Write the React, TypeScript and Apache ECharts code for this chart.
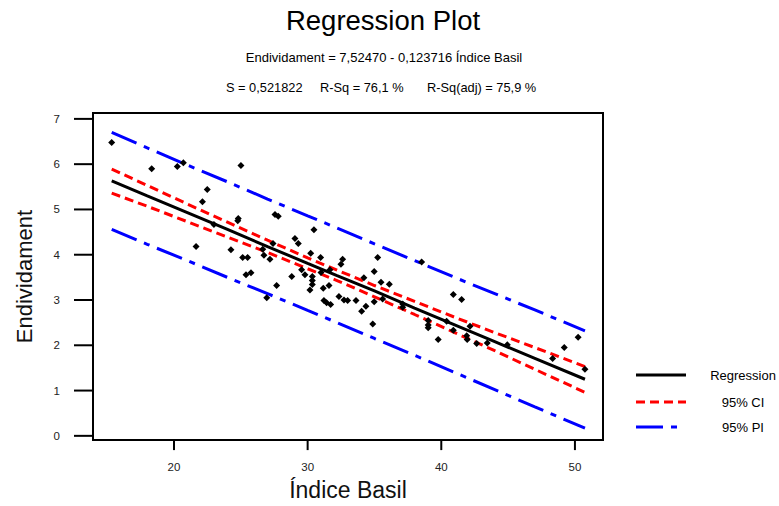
import React, { useEffect, useRef } from "react";
import * as echarts from "echarts";

const xTicks = [20, 30, 40, 50];
const yTicks = [0, 1, 2, 3, 4, 5, 6, 7];

const pointsX = [
  15.34, 18.33, 20.25, 20.7, 25.01, 22.49, 22.13, 24.81, 24.77, 22.99, 21.65, 24.26, 25.14, 25.51,
  26.64, 26.73, 27.18, 27.41, 27.56, 27.8, 29.05, 29.3, 25.39, 25.76, 28.81, 27.68, 26.94, 30.47,
  30.23, 30.97, 32.62, 32.49, 35.24, 29.55, 29.8, 31.0, 30.35, 30.35, 30.35, 31.67, 34.98, 34.21,
  35.49, 36.11, 30.17, 31.17, 31.6, 32.34, 32.72, 32.99, 33.62, 31.22, 31.42, 31.72, 34.36, 34.98,
  35.61, 34.04, 34.87, 38.53, 40.9, 41.52, 37.11, 37.11, 39.02, 39.02, 39.02, 39.77, 40.4, 40.9,
  42.15, 41.9, 41.94, 42.65, 43.44, 44.94, 48.33, 49.2, 50.24, 50.75,
];
const pointsY = [
  6.48, 5.9, 5.95, 6.03, 5.97, 5.44, 5.17, 4.8, 4.75, 4.67, 4.18, 4.11, 3.94, 3.94,
  4.12, 3.99, 3.9, 4.25, 4.89, 4.85, 4.36, 4.25, 3.56, 3.6, 3.52, 3.32, 3.05, 4.55,
  4.03, 3.94, 3.9, 3.79, 3.94, 3.67, 3.56, 3.61, 3.52, 3.43, 3.34, 3.67, 3.63, 3.49,
  3.39, 3.35, 3.22, 3.26, 3.32, 3.08, 3.0, 2.99, 2.99, 2.99, 2.94, 2.9, 2.86, 2.96,
  3.02, 2.75, 2.47, 3.84, 3.12, 3.01, 2.91, 2.84, 2.55, 2.45, 2.39, 2.13, 2.53, 2.33,
  2.42, 2.21, 2.13, 2.04, 2.05, 2.01, 1.71, 1.95, 2.18, 1.47,
];

const fitX = [15.34, 18, 21, 24, 27, 30, 32.2, 35, 38, 41, 44, 47, 50.75];
const fitY = [5.63, 5.3, 4.93, 4.56, 4.18, 3.81, 3.54, 3.2, 2.82, 2.45, 2.08, 1.71, 1.25];
const ciUpper = [5.89, 5.53, 5.12, 4.72, 4.32, 3.93, 3.66, 3.32, 2.97, 2.62, 2.28, 1.95, 1.53];
const ciLower = [5.36, 5.07, 4.73, 4.39, 4.05, 3.69, 3.43, 3.07, 2.68, 2.28, 1.88, 1.47, 0.96];
const piUpper = [6.7, 6.36, 5.98, 5.61, 5.23, 4.86, 4.59, 4.24, 3.87, 3.5, 3.14, 2.78, 2.32];
const piLower = [4.56, 4.23, 3.87, 3.5, 3.14, 2.77, 2.5, 2.15, 1.78, 1.4, 1.02, 0.64, 0.17];

const legendNames = ["Regression", "95% CI", "95% PI"];

const FONT = "'Liberation Sans', Arial, sans-serif";
const CI_DASH = [9, 5];
const PI_DASH = [27, 8, 6, 8];

const G_LEFT = 93;
const G_TOP = 113;
const G_W = 510;
const G_H = 329;
const X_MIN = 13.94;
const X_MAX = 52.1;
const Y_MIN = -0.094;
const Y_MAX = 7.13;
const Y_TICK_LEN = 19;
const X_TICK_LEN = 10;

function pairs(xs: number[], ys: number[]) {
  return xs.map((x, i) => [x, ys[i]]);
}

export default function App() {
  const ref = useRef<HTMLDivElement>(null);
  useEffect(() => {
    if (!ref.current) return;
    const chart = echarts.init(ref.current, undefined, { renderer: "svg" });
    const lineSeries = (name: string, ys: number[], color: string, dash: any, z: number) => ({
      name,
      type: "line",
      data: pairs(fitX, ys),
      showSymbol: false,
      symbol: "none",
      lineStyle: { color, width: 3, type: dash },
      z,
    });
    const frameLine = { show: true, onZero: false, lineStyle: { color: "#000", width: 2 } };

    // tick marks: a custom series placing each tick through the axes' own scales
    const tickData = [
      ...yTicks.map((v) => [X_MIN, v, 0]),
      ...xTicks.map((v) => [v, Y_MIN, 1]),
    ];

    chart.setOption({
      animation: false,
      backgroundColor: "#ffffff",
      textStyle: { fontFamily: FONT },
      grid: {
        left: G_LEFT,
        top: G_TOP,
        width: G_W,
        height: G_H,
        show: true,
        borderColor: "#000",
        borderWidth: 2,
        backgroundColor: "transparent",
      },
      xAxis: {
        type: "value",
        min: X_MIN,
        max: X_MAX,
        name: "Índice Basil",
        nameLocation: "middle",
        nameGap: 34,
        nameTextStyle: { fontSize: 23, color: "#111", fontFamily: FONT },
        axisLine: frameLine,
        axisTick: { show: false },
        axisLabel: { fontSize: 11.5, color: "#222", margin: 21, customValues: xTicks, fontFamily: FONT },
        splitLine: { show: false },
      },
      yAxis: {
        type: "value",
        min: Y_MIN,
        max: Y_MAX,
        name: "Endividament",
        nameLocation: "middle",
        nameRotate: 90,
        nameGap: 58,
        nameTextStyle: { fontSize: 22, color: "#111", fontFamily: FONT },
        axisLine: frameLine,
        axisTick: { show: false },
        axisLabel: { fontSize: 11.5, color: "#222", margin: 33, customValues: yTicks, fontFamily: FONT },
        splitLine: { show: false },
      },
      series: [
        lineSeries("95% PI upper", piUpper, "#0000ff", PI_DASH, 2),
        lineSeries("95% PI lower", piLower, "#0000ff", PI_DASH, 2),
        lineSeries("95% CI upper", ciUpper, "#ff0000", CI_DASH, 3),
        lineSeries("95% CI lower", ciLower, "#ff0000", CI_DASH, 3),
        lineSeries("Regression", fitY, "#000000", "solid", 4),
        {
          name: "Data",
          type: "scatter",
          data: pairs(pointsX, pointsY),
          symbol: "diamond",
          symbolSize: 7,
          itemStyle: { color: "#000", opacity: 1 },
          z: 5,
        },
        {
          name: "ticks",
          type: "custom",
          clip: false,
          silent: true,
          z: 20,
          data: tickData,
          encode: { x: 0, y: 1 },
          renderItem: (params: any, api: any) => {
            const p = api.coord([api.value(0), api.value(1)]);
            const isX = api.value(2) === 1;
            return {
              type: "rect",
              shape: isX
                ? { x: p[0] - 1, y: p[1], width: 2, height: X_TICK_LEN }
                : { x: p[0] - Y_TICK_LEN, y: p[1] - 1, width: Y_TICK_LEN, height: 2 },
              style: { fill: "#000" },
            };
          },
        },
      ],
      graphic: [
        {
          type: "text",
          x: 383,
          y: 20,
          style: {
            text: "Regression Plot",
            fontSize: 27.5,
            fill: "#000",
            fontFamily: FONT,
            textAlign: "center",
            textVerticalAlign: "middle",
          },
        },
        {
          type: "text",
          x: 384,
          y: 57,
          style: {
            text: "Endividament = 7,52470 - 0,123716 Índice Basil",
            fontSize: 13,
            fill: "#000",
            fontFamily: FONT,
            textAlign: "center",
            textVerticalAlign: "middle",
          },
        },
        {
          type: "text",
          x: 226,
          y: 87,
          style: { text: "S = 0,521822", fontSize: 12.8, fill: "#000", fontFamily: FONT, textVerticalAlign: "middle" },
        },
        {
          type: "text",
          x: 320,
          y: 87,
          style: { text: "R-Sq = 76,1 %", fontSize: 12.8, fill: "#000", fontFamily: FONT, textVerticalAlign: "middle" },
        },
        {
          type: "text",
          x: 427,
          y: 87,
          style: { text: "R-Sq(adj) = 75,9 %", fontSize: 12.8, fill: "#000", fontFamily: FONT, textVerticalAlign: "middle" },
        },
        {
          type: "line",
          shape: { x1: 636, y1: 375, x2: 686, y2: 375 },
          style: { stroke: "#000", lineWidth: 3 },
        },
        {
          type: "line",
          shape: { x1: 636, y1: 402, x2: 686, y2: 402 },
          style: { stroke: "#ff0000", lineWidth: 3, lineDash: CI_DASH },
        },
        {
          type: "line",
          shape: { x1: 636, y1: 427, x2: 683, y2: 427 },
          style: { stroke: "#0000ff", lineWidth: 3, lineDash: PI_DASH },
        },
        ...legendNames.map((t, i) => ({
          type: "text",
          x: 743,
          y: [375, 402, 427][i],
          style: { text: t, fontSize: 13, fill: "#000", fontFamily: FONT, textAlign: "center", textVerticalAlign: "middle" },
        })),
      ],
    });
    return () => chart.dispose();
  }, []);
  return (
    <div
      ref={ref}
      style={{ position: "absolute", left: 0, top: 0, width: 779, height: 506, background: "#fff" }}
    />
  );
}
